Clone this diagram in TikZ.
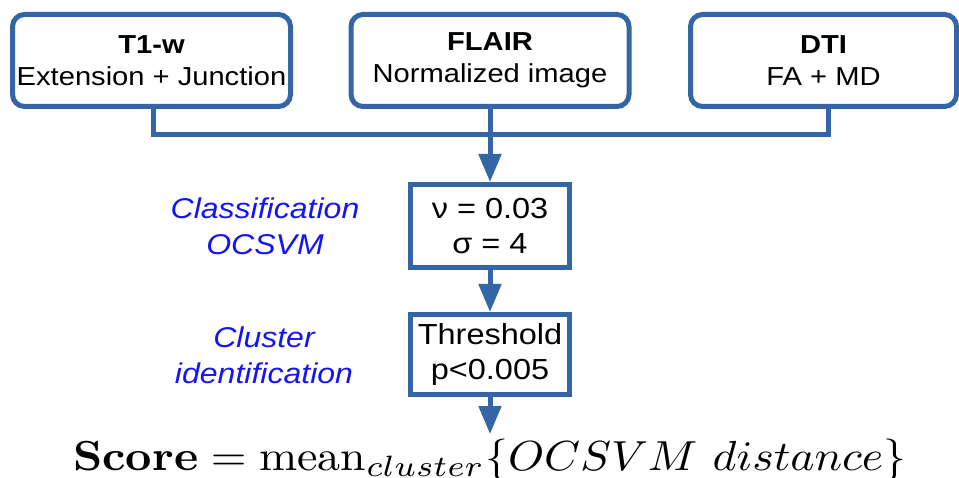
\documentclass[tikz,border=0pt]{standalone}
\usepackage{fontspec}
\setsansfont{Liberation Sans}
\usepackage{graphicx}
\usetikzlibrary{arrows.meta}
\definecolor{boxblue}{HTML}{3465A4}
\definecolor{lblblue}{HTML}{1414F5}
\newcommand{\sx}[1]{\scalebox{1.12}[1]{#1}}
\begin{document}
\begin{tikzpicture}[x=1pt,y=-1pt,
  tbox/.style={draw=boxblue, line width=5pt, rounded corners=12pt, minimum height=92pt,
    inner sep=0pt, align=center, font=\sffamily\fontsize{26}{32}\selectfont},
  mbox/.style={draw=boxblue, line width=5pt, minimum width=159pt, inner sep=0pt,
    align=center, font=\sffamily\fontsize{29}{35}\selectfont},
  lbl/.style={text=lblblue, align=center, inner sep=0pt,
    font=\sffamily\itshape\fontsize{28.6}{36}\selectfont},
  conn/.style={draw=boxblue, line width=5pt},
  arr/.style={conn, -{Triangle[width=22pt,length=28pt]}}]
\useasboundingbox (0,0) rectangle (959,478);
\fill[white] (0,0) rectangle (959,478);
\node[tbox, minimum width=278pt] (b1) at (151.5,60.5) {\sx{\bfseries T1-w}\\\sx{Extension + Junction}};
\node[tbox, minimum width=278pt] (b2) at (490,60.5) {\sx{\bfseries FLAIR}\\\sx{Normalized image}};
\node[tbox, minimum width=266pt] (b3) at (823.5,60.5) {\sx{\bfseries DTI}\\\sx{FA + MD}};
\node[mbox, minimum height=83pt] (c1) at (490,226) {\sx{ν = 0.03}\\\sx{σ = 4}};
\node[mbox, minimum height=80pt] (c2) at (490,354.5) {\sx{Threshold}\\\sx{p<0.005}};
\node[lbl] (l1) at (265,226) {\sx{Classification}\\\sx{OCSVM}};
\node[lbl] (l2) at (264,355) {\sx{Cluster}\\\sx{identification}};
\node[anchor=base west, inner sep=0pt] (f) at (73,470)
  {\resizebox{833pt}{4.2\height}{$\textbf{Score} = \mathrm{mean}_{cluster}\{OCSVM\ distance\}$}};
\coordinate (jn) at (490,135);
\coordinate (ftip) at (490,434);
\draw[conn] ([xshift=1.5pt]b1.south) |- (jn) -| ([xshift=4.5pt]b3.south);
\draw[arr] (b2.south) -- (c1.north);
\draw[arr] (c1.south) -- (c2.north);
\draw[arr] (c2.south) -- (ftip);
\end{tikzpicture}
\end{document}
